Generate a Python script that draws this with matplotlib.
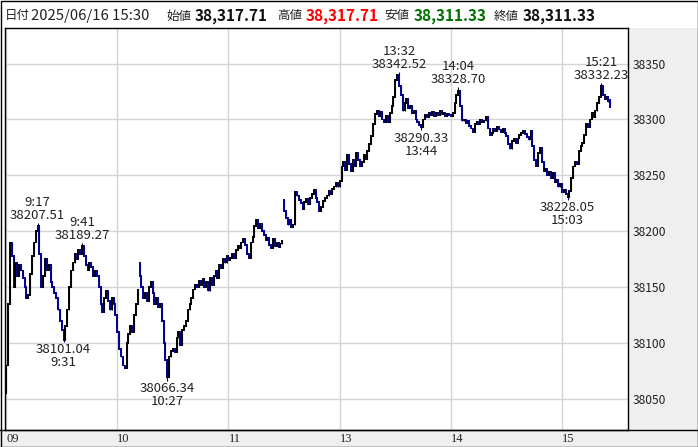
import matplotlib.pyplot as plt
from matplotlib.patches import Rectangle
from matplotlib.lines import Line2D
from matplotlib.transforms import ScaledTranslation

plt.rcParams['font.family'] = ['Noto Sans CJK JP', 'DejaVu Sans']

# 1-minute closes, 9:00 .. 11:30 then 12:30 .. 15:30 (lunch removed)
first_open = 38055.0
closes = [
    38080, 38135, 38190, 38178, 38150, 38172, 38160, 38170, 38165, 38158,
    38150, 38140, 38143, 38162, 38178, 38190, 38200, 38205, 38180, 38150,
    38160, 38175, 38165, 38170, 38155, 38150, 38145, 38140, 38130, 38120,
    38112, 38103, 38115, 38130, 38150, 38165, 38172, 38180, 38175, 38183,
    38180, 38187, 38178, 38170, 38165, 38172, 38168, 38160, 38165, 38160,
    38150, 38135, 38128, 38140, 38147, 38138, 38130, 38140, 38135, 38125,
    38110, 38095, 38088, 38080, 38078, 38100, 38108, 38115, 38110, 38125,
    38135, 38148, 38160, 38150, 38140, 38145, 38138, 38150, 38155, 38145,
    38135, 38140, 38132, 38135, 38120, 38100, 38085, 38070, 38088, 38093,
    38095, 38092, 38105, 38110, 38098, 38112, 38115, 38120, 38130, 38135,
    38140, 38148, 38152, 38150, 38156, 38152, 38157, 38150, 38155, 38147,
    38158, 38152, 38160, 38165, 38158, 38170, 38167, 38175, 38172, 38178,
    38174, 38176, 38180, 38176, 38183, 38187, 38185, 38190, 38193, 38188,
    38180, 38176, 38190, 38195, 38205, 38210, 38203, 38207, 38200, 38197,
    38192, 38194, 38188, 38185, 38193, 38187, 38190, 38186, 38189, 38191,
    38218, 38212, 38206, 38210, 38204, 38206, 38235, 38232, 38228, 38225,
    38220, 38226, 38229, 38224, 38230, 38233, 38237, 38230, 38226, 38218,
    38222, 38227, 38230, 38232, 38236, 38233, 38238, 38240, 38243, 38240,
    38245, 38258, 38262, 38255, 38268, 38260, 38254, 38264, 38258, 38270,
    38264, 38258, 38262, 38268, 38265, 38272, 38278, 38285, 38296, 38305,
    38308, 38303, 38307, 38300, 38298, 38303, 38298, 38306, 38312, 38320,
    38335, 38340, 38330, 38322, 38308, 38315, 38318, 38310, 38312, 38306,
    38308, 38300, 38298, 38295, 38293, 38300, 38304, 38302, 38306, 38304,
    38307, 38303, 38306, 38304, 38308, 38305, 38306, 38303, 38305, 38304,
    38303, 38306, 38315, 38322, 38326, 38312, 38299, 38300, 38297, 38299,
    38294, 38292, 38289, 38296, 38298, 38296, 38300, 38298, 38299, 38302,
    38292, 38286, 38288, 38292, 38290, 38293, 38291, 38289, 38292, 38288,
    38285, 38278, 38274, 38281, 38283, 38279, 38283, 38286, 38288, 38290,
    38287, 38284, 38282, 38290, 38276, 38264, 38258, 38270, 38275, 38262,
    38254, 38256, 38250, 38253, 38248, 38252, 38244, 38246, 38240, 38242,
    38235, 38237, 38233, 38231, 38236, 38248, 38258, 38262, 38260, 38272,
    38276, 38279, 38286, 38296, 38293, 38300, 38306, 38302, 38308, 38315,
    38320, 38330, 38322, 38318, 38320, 38316, 38311.33,
]
gap_opens = {72: 38172.0, 150: 38228.0, 326: 38317.71}

peak_times = ['9:17', '9:41', '13:32', '14:04', '15:21']
peak_values = [38207.51, 38189.27, 38342.52, 38328.70, 38332.23]
trough_times = ['9:31', '10:27', '13:44', '15:03']
trough_values = [38101.04, 38066.34, 38290.33, 38228.05]

hour_labels = ['09', '10', '11', '13', '14', '15']
y_ticks = [38050, 38100, 38150, 38200, 38250, 38300, 38350]

date_text = '2025/06/16 15:30'
open_v, high_v, low_v, close_v = 38317.71, 38317.71, 38311.33, 38311.33


def minute_index(t):
    h, m = map(int, t.split(':'))
    n = h * 60 + m - 9 * 60
    if n >= 150:
        n -= 60  # skip lunch break
    return n


opens = [first_open] + closes[:-1]
for k, v in gap_opens.items():
    opens[k] = v
highs = [max(o, c) for o, c in zip(opens, closes)]
lows = [min(o, c) for o, c in zip(opens, closes)]
for t, v in zip(peak_times, peak_values):
    highs[minute_index(t)] = v
for t, v in zip(trough_times, trough_values):
    lows[minute_index(t)] = v

W, H = 698, 447
fig = plt.figure(figsize=(W / 100, H / 100), dpi=100)
fig.patch.set_facecolor('white')


def fx(px):
    return px / W


def fy(py):
    return 1 - py / H


# grey panels for axis labels
fig.patches.append(Rectangle((fx(628), fy(430)), (W - 628) / W, 402 / H,
                             transform=fig.transFigure, facecolor='#efefef',
                             edgecolor='none', zorder=-5))
fig.patches.append(Rectangle((0, 0), 1, fy(430), transform=fig.transFigure,
                             facecolor='#efefef', edgecolor='none', zorder=-5))

ax = fig.add_axes([fx(5), fy(430), (628 - 5) / W, (430 - 28) / H])
ax.set_xlim(-0.6, 335.6)
ax.set_ylim(38022.3, 38381.8)

hour_idx = [minute_index(str(int(h)) + ':00') for h in hour_labels]
ax.set_xticks(hour_idx)
ax.set_xticklabels(hour_labels, fontfamily='Liberation Serif', fontsize=9, ha='left')
off = ScaledTranslation(2 / 72, -1 / 72, fig.dpi_scale_trans)
for lab in ax.get_xticklabels():
    lab.set_transform(lab.get_transform() + off)
ax.set_yticks(y_ticks)
ax.yaxis.tick_right()
ax.tick_params(axis='y', length=0, pad=3, labelsize=8.7, labelcolor='#222222')
ax.tick_params(axis='x', length=0, pad=2, labelcolor='#222222')
ax.grid(True, color='#d4d4d4', lw=1)
ax.set_axisbelow(True)
for s in ax.spines.values():
    s.set_color('black')
    s.set_linewidth(1)

xs = list(range(len(closes)))
up = [c >= o for o, c in zip(opens, closes)]
colors = ['black' if u else '#00008c' for u in up]
# wicks
ax.vlines(xs, lows, highs, colors=colors, lw=0.8, zorder=2)
# bodies
b_lo = [min(o, c) - 0.8 for o, c in zip(opens, closes)]
b_hi = [max(o, c) + 0.8 for o, c in zip(opens, closes)]
ax.vlines(xs, b_lo, b_hi, colors=colors, lw=1.4, zorder=3)

for t, v in zip(peak_times, peak_values):
    ax.annotate(f'{t}\n{v:.2f}', (minute_index(t), v), xytext=(0, 1),
                textcoords='offset points', ha='center', va='bottom',
                fontsize=9.5, linespacing=1.0, color='#222222', zorder=5)
for t, v in zip(trough_times, trough_values):
    ax.annotate(f'{v:.2f}\n{t}', (minute_index(t), v), xytext=(0, -1),
                textcoords='offset points', ha='center', va='top',
                fontsize=9.5, linespacing=1.0, color='#222222', zorder=5)

# header line: small CJK captions, larger numbers
hy = fy(16)
pieces = [
    (5, '日付', '#222222', 'normal', 9),
    (31, date_text, '#222222', 'normal', 10.7),
    (166, '始値', '#222222', 'normal', 9),
    (195, f'{open_v:,.2f}', '#111111', 'bold', 11),
    (277, '高値', '#222222', 'normal', 9),
    (306, f'{high_v:,.2f}', '#ff0000', 'bold', 11),
    (384, '安値', '#222222', 'normal', 9),
    (414, f'{low_v:,.2f}', '#007000', 'bold', 11),
    (494, '終値', '#222222', 'normal', 9),
    (523, f'{close_v:,.2f}', '#111111', 'bold', 11),
]
for px, s, col, wt, fs in pieces:
    fig.text(fx(px), hy, s, color=col, fontweight=wt, fontsize=fs,
             va='center', ha='left')

# outer frame and bottom border
fig.add_artist(Rectangle((0.5 / W, 0.5 / H), 1 - 1 / W, 1 - 1 / H,
                         transform=fig.transFigure, fill=False,
                         edgecolor='black', lw=1))
fig.add_artist(Line2D([0, 1], [fy(430), fy(430)], transform=fig.transFigure,
                      color='black', lw=1))

fig.savefig('out.png', dpi=100)
